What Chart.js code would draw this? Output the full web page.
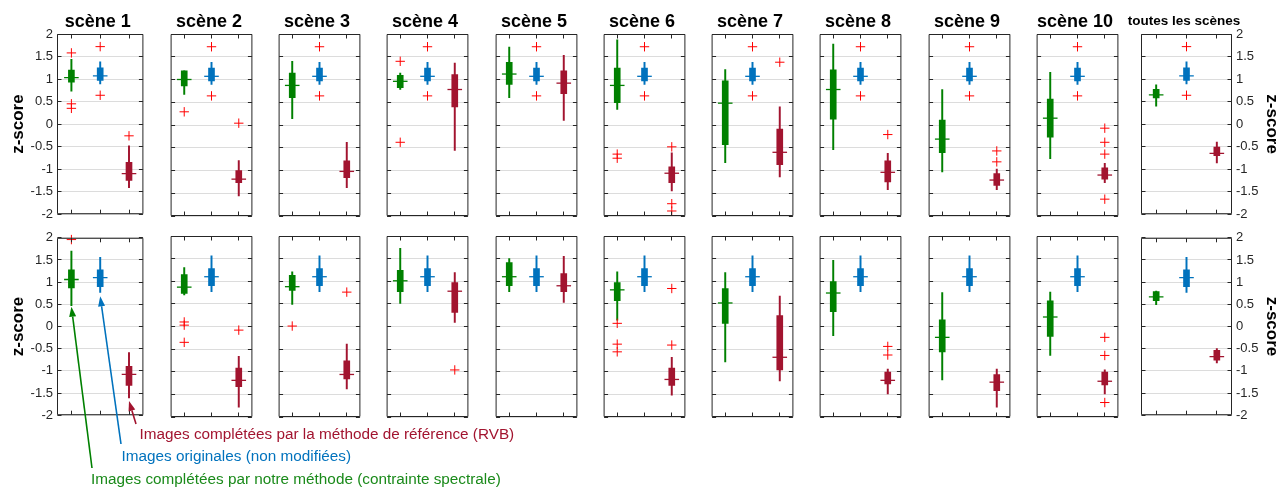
<!DOCTYPE html>
<html lang="fr">
<head>
<meta charset="utf-8">
<title>z-score par scène</title>
<script src="https://cdn.jsdelivr.net/npm/chart.js@4.4.1/dist/chart.umd.min.js"></script>
<style>
  html, body { margin: 0; padding: 0; background: #fff; overflow: hidden; }
  #page { position: relative; width: 1288px; height: 488px; }
  #page canvas { position: absolute; }
  #arrows { left: 0; top: 0; z-index: 5; pointer-events: none; }
  .note {
    position: absolute;
    z-index: 6;
    font: 15.3px/15px "Liberation Sans", Arial, Helvetica, sans-serif;
    white-space: nowrap;
  }
</style>
</head>
<body>
<div id="page">
  <canvas id="arrows" width="1288" height="488"></canvas>
  <div class="note" style="left:139.5px; top:425.5px; color:#a2142f;">Images complétées par la méthode de référence (RVB)</div>
  <div class="note" style="left:121.5px; top:448.2px; color:#0072bd;">Images originales (non modifiées)</div>
  <div class="note" style="left:91px; top:471.2px; color:#1a8a1a;">Images complétées par notre méthode (contrainte spectrale)</div>
</div>
<script>
  const FONT = '"Liberation Sans", Arial, Helvetica, sans-serif';

  const sceneTitles = [
    "scène 1", "scène 2", "scène 3", "scène 4", "scène 5", "scène 6",
    "scène 7", "scène 8", "scène 9", "scène 10", "toutes les scènes",
  ];
  const methods = ["notre méthode", "originales", "référence"];
  const methodColors = ["#008000", "#0072bd", "#a2142f"];
  const outlierColor = "#ff0000";

  const yTickValues = [-2, -1.5, -1, -0.5, 0, 0.5, 1, 1.5, 2];
  const yTickLabels = ["-2", "-1.5", "-1", "-0.5", "0", "0.5", "1", "1.5", "2"];

  // each box: [whisker low, q1, median, q3, whisker high]
  const oursTop = [
    [0.73, 0.93, 1.03, 1.20, 1.44],
    [0.67, 0.86, 1.00, 1.19, 1.19],
    [0.14, 0.60, 0.87, 1.14, 1.40],
    [0.78, 0.82, 0.96, 1.09, 1.14],
    [0.60, 0.89, 1.12, 1.38, 1.71],
    [0.34, 0.49, 0.87, 1.25, 1.87],
    [-0.83, -0.43, 0.48, 0.97, 1.22],
    [-0.54, 0.13, 0.78, 1.21, 1.78],
    [-1.03, -0.61, -0.31, 0.11, 0.78],
    [-0.74, -0.27, 0.15, 0.57, 1.16],
    [0.40, 0.58, 0.65, 0.77, 0.87],
  ];
  const oursTopOutliers = [
    [1.58, 0.45, 0.35], [0.29], [], [1.40, -0.38], [], [-0.64, -0.73], [], [], [], [], [],
  ];

  const origTop = [
    [0.89, 0.97, 1.07, 1.25, 1.38],
    [0.89, 0.97, 1.07, 1.25, 1.38],
    [0.89, 0.97, 1.07, 1.25, 1.38],
    [0.89, 0.97, 1.07, 1.25, 1.38],
    [0.89, 0.97, 1.07, 1.25, 1.38],
    [0.89, 0.97, 1.07, 1.25, 1.38],
    [0.89, 0.97, 1.07, 1.25, 1.38],
    [0.89, 0.97, 1.07, 1.25, 1.38],
    [0.89, 0.97, 1.07, 1.25, 1.38],
    [0.89, 0.97, 1.07, 1.25, 1.38],
    [0.89, 0.97, 1.07, 1.25, 1.38],
  ];
  const origTopOutliers = [
    [1.72, 0.64], [1.72, 0.64], [1.72, 0.64], [1.72, 0.64], [1.72, 0.64], [1.72, 0.64],
    [1.72, 0.64], [1.72, 0.64], [1.72, 0.64], [1.72, 0.64], [1.72, 0.64],
  ];

  const refTop = [
    [-1.41, -1.25, -1.10, -0.85, -0.48],
    [-1.56, -1.27, -1.19, -1.00, -0.78],
    [-1.38, -1.16, -1.02, -0.79, -0.38],
    [-0.56, 0.40, 0.78, 1.11, 1.36],
    [0.10, 0.69, 0.92, 1.19, 1.53],
    [-1.45, -1.27, -1.06, -0.92, -0.61],
    [-1.14, -0.87, -0.60, -0.09, 0.40],
    [-1.42, -1.25, -1.04, -0.79, -0.62],
    [-1.42, -1.33, -1.21, -1.07, -0.97],
    [-1.27, -1.19, -1.10, -0.94, -0.84],
    [-0.86, -0.70, -0.65, -0.51, -0.40],
  ];
  const refTopOutliers = [
    [-0.26], [0.04], [], [], [], [-0.48, -1.73, -1.89], [1.38], [-0.21], [-0.57, -0.81],
    [-0.07, -0.38, -0.64, -1.63], [],
  ];

  const oursBottom = [
    [0.47, 0.87, 1.06, 1.28, 1.70],
    [0.70, 0.73, 0.87, 1.15, 1.30],
    [0.49, 0.80, 0.88, 1.13, 1.21],
    [0.51, 0.77, 1.01, 1.24, 1.73],
    [0.77, 0.90, 1.10, 1.41, 1.50],
    [0.14, 0.57, 0.81, 0.97, 1.21],
    [-0.78, 0.07, 0.52, 0.84, 1.19],
    [-0.20, 0.33, 0.74, 0.99, 1.46],
    [-1.18, -0.56, -0.24, 0.15, 0.75],
    [-0.64, -0.22, 0.21, 0.57, 0.76],
    [0.49, 0.58, 0.67, 0.79, 0.80],
  ];
  const oursBottomOutliers = [
    [1.96], [0.10, 0.03, -0.35], [0.01], [], [], [0.07, -0.39, -0.56], [], [], [], [], [],
  ];

  const origBottom = [
    [0.77, 0.90, 1.10, 1.28, 1.56],
    [0.77, 0.90, 1.10, 1.28, 1.56],
    [0.77, 0.90, 1.10, 1.28, 1.56],
    [0.77, 0.90, 1.10, 1.28, 1.56],
    [0.77, 0.90, 1.10, 1.28, 1.56],
    [0.77, 0.90, 1.10, 1.28, 1.56],
    [0.77, 0.90, 1.10, 1.28, 1.56],
    [0.77, 0.90, 1.10, 1.28, 1.56],
    [0.77, 0.90, 1.10, 1.28, 1.56],
    [0.77, 0.90, 1.10, 1.28, 1.56],
    [0.77, 0.90, 1.10, 1.28, 1.56],
  ];
  const origBottomOutliers = [[], [], [], [], [], [], [], [], [], [], []];

  const refBottom = [
    [-1.61, -1.33, -1.08, -0.90, -0.59],
    [-1.78, -1.33, -1.19, -0.92, -0.66],
    [-1.38, -1.16, -1.06, -0.76, -0.39],
    [0.09, 0.31, 0.78, 0.97, 1.19],
    [0.53, 0.77, 0.90, 1.17, 1.55],
    [-1.52, -1.30, -1.17, -0.92, -0.68],
    [-1.20, -0.96, -0.68, 0.24, 0.67],
    [-1.49, -1.27, -1.19, -1.01, -0.94],
    [-1.78, -1.42, -1.23, -1.06, -0.94],
    [-1.49, -1.29, -1.21, -1.01, -0.96],
    [-0.82, -0.76, -0.68, -0.54, -0.50],
  ];
  const refBottomOutliers = [
    [], [-0.08], [0.76], [-0.96], [], [0.84, -0.41], [], [-0.44, -0.63], [], [-0.24, -0.64, -1.68], [],
  ];

  // page layout (pixels)
  const panelLeft = [57, 166, 274, 382, 491, 599, 707, 815, 924, 1032, 1141];
  const panelWidth = 91;
  const rows = [
    { top: 34, height: 182, padTop: 34, titles: true,
      ours: oursTop, oursOut: oursTopOutliers, orig: origTop, origOut: origTopOutliers, ref: refTop, refOut: refTopOutliers },
    { top: 236, height: 181, padTop: 10, titles: false,
      ours: oursBottom, oursOut: oursBottomOutliers, orig: origBottom, origOut: origBottomOutliers, ref: refBottom, refOut: refBottomOutliers },
  ];

  const panelTitle = {
    id: "panelTitle",
    afterDraw(chart, args, opts) {
      if (!opts.text) {
        return;
      }
      const { ctx, chartArea } = chart;
      ctx.save();
      ctx.font = opts.font;
      ctx.fillStyle = "#000";
      ctx.textAlign = "center";
      ctx.textBaseline = "alphabetic";
      ctx.fillText(opts.text, (chartArea.left + chartArea.right) / 2 + opts.dx, chartArea.top - opts.gap);
      ctx.restore();
    },
  };

  // box round the axes with inward tick marks
  const axesBox = {
    id: "axesBox",
    afterDraw(chart) {
      const { ctx, chartArea: a, scales } = chart;
      const left = a.left + 0.5;
      const right = a.right - 0.5;
      const top = a.top + 0.5;
      const bottom = a.bottom - 0.5;
      ctx.save();
      ctx.strokeStyle = "#262626";
      ctx.lineWidth = 1;
      ctx.beginPath();
      ctx.rect(left, top, right - left, bottom - top);
      yTickValues.forEach((v) => {
        const py = Math.round(scales.y.getPixelForValue(v) - 0.5) + 0.5;
        ctx.moveTo(left, py);
        ctx.lineTo(left + 4, py);
        ctx.moveTo(right, py);
        ctx.lineTo(right - 4, py);
      });
      methods.forEach((m, k) => {
        const px = Math.round(scales.x.getPixelForValue(k) - 0.5) + 0.5;
        ctx.moveTo(px, bottom);
        ctx.lineTo(px, bottom - 4);
        ctx.moveTo(px, top);
        ctx.lineTo(px, top + 4);
      });
      ctx.stroke();
      ctx.restore();
    },
  };

  const page = document.getElementById("page");
  const bottomCharts = [];

  rows.forEach((row, rowIndex) => {
    sceneTitles.forEach((title, i) => {
      const chart = makePanel(row, i, title);
      if (rowIndex === 1) {
        bottomCharts.push(chart);
      }
    });
  });

  drawArrows(bottomCharts[0]);

  function makePanel(row, i, title) {
    const first = i === 0;
    const last = i === sceneTitles.length - 1;
    const axisLeft = first ? 53 : 0;
    const axisRight = last ? 52 : 0;
    const padLeft = last ? 30 : 4;
    const padRight = 4;
    const padTop = row.padTop;
    const padBottom = 10;

    const canvas = document.createElement("canvas");
    canvas.width = panelWidth + padLeft + padRight + axisLeft + axisRight;
    canvas.height = row.height + padTop + padBottom;
    canvas.style.left = (panelLeft[i] - padLeft - axisLeft) + "px";
    canvas.style.top = (row.top - padTop) + "px";
    canvas.dataset.left = panelLeft[i] - padLeft - axisLeft;
    canvas.dataset.top = row.top - padTop;
    page.appendChild(canvas);

    const stats = [row.ours[i], row.orig[i], row.ref[i]];
    const outliers = [row.oursOut[i], row.origOut[i], row.refOut[i]];
    const outlierPoints = [];
    outliers.forEach((values, k) => {
      values.forEach((v) => outlierPoints.push({ x: methods[k], y: v }));
    });

    const showLabels = first || last;

    return new Chart(canvas, {
      type: "bar",
      data: {
        labels: methods,
        datasets: [
          {
            type: "scatter",
            data: outlierPoints,
            pointStyle: "cross",
            pointRadius: 4.7,
            pointBorderColor: outlierColor,
            pointBackgroundColor: outlierColor,
            pointBorderWidth: 1,
            clip: false,
            order: 1,
          },
          {
            type: "scatter",
            data: stats.map((s, k) => ({ x: methods[k], y: s[2] })),
            pointStyle: "line",
            pointRadius: 7.3,
            pointBorderColor: methodColors,
            pointBackgroundColor: methodColors,
            pointBorderWidth: 1.3,
            order: 2,
          },
          {
            data: stats.map((s) => [s[1], s[3]]),
            backgroundColor: methodColors,
            borderWidth: 0,
            barThickness: 6,
            grouped: false,
            order: 3,
          },
          {
            data: stats.map((s) => [s[0], s[4]]),
            backgroundColor: methodColors,
            borderWidth: 0,
            barThickness: 1.3,
            grouped: false,
            order: 4,
          },
        ],
      },
      options: {
        responsive: false,
        animation: false,
        events: [],
        layout: {
          padding: { left: padLeft, right: padRight, top: padTop, bottom: padBottom },
        },
        plugins: {
          legend: { display: false },
          tooltip: { enabled: false },
          colors: { enabled: false },
          panelTitle: {
            text: row.titles ? title : "",
            font: last ? `bold 13.5px ${FONT}` : `bold 18px ${FONT}`,
            gap: last ? 9 : 7,
            dx: -2.5,
          },
        },
        scales: {
          x: {
            type: "category",
            labels: methods,
            offset: true,
            display: false,
          },
          y: {
            type: "linear",
            position: last ? "right" : "left",
            min: -2,
            max: 2,
            afterBuildTicks(scale) {
              scale.ticks = yTickValues.map((v) => ({ value: v }));
            },
            afterFit(scale) {
              scale.width = first ? axisLeft : (last ? axisRight : 0);
            },
            grid: { color: "#dcdcdc", lineWidth: 1, drawTicks: false },
            border: { display: false },
            ticks: {
              display: showLabels,
              padding: 4,
              color: "#262626",
              font: { family: FONT, size: 13 },
              callback(value) {
                return yTickLabels[yTickValues.indexOf(value)];
              },
            },
            title: {
              display: showLabels,
              text: "z-score",
              color: "#000",
              font: { family: FONT, size: 17, weight: "bold" },
              padding: { top: first ? 4 : 2, bottom: 0 },
            },
          },
        },
      },
      plugins: [panelTitle, axesBox],
    });
  }

  function drawArrows(chart) {
    const ctx = document.getElementById("arrows").getContext("2d");
    const offsetX = Number(chart.canvas.dataset.left);
    const offsetY = Number(chart.canvas.dataset.top);
    const stats = [oursBottom[0], origBottom[0], refBottom[0]];
    const tails = [{ x: 92, y: 468 }, { x: 121, y: 444 }, { x: 136, y: 424 }];
    const gaps = [1, 4, 3];

    tails.forEach((tail, k) => {
      const tip = {
        x: offsetX + chart.scales.x.getPixelForValue(k),
        y: offsetY + chart.scales.y.getPixelForValue(stats[k][0]) + gaps[k],
      };
      drawArrow(ctx, tail, tip, methodColors[k]);
    });
  }

  function drawArrow(ctx, from, to, color) {
    const angle = Math.atan2(to.y - from.y, to.x - from.x);
    const headLength = 10;
    const headHalf = 3.5;
    const baseX = to.x - Math.cos(angle) * headLength;
    const baseY = to.y - Math.sin(angle) * headLength;

    ctx.save();
    ctx.strokeStyle = color;
    ctx.fillStyle = color;
    ctx.lineWidth = 1.6;
    ctx.beginPath();
    ctx.moveTo(from.x, from.y);
    ctx.lineTo(baseX, baseY);
    ctx.stroke();

    ctx.beginPath();
    ctx.moveTo(to.x, to.y);
    ctx.lineTo(baseX + Math.sin(angle) * headHalf, baseY - Math.cos(angle) * headHalf);
    ctx.lineTo(baseX - Math.sin(angle) * headHalf, baseY + Math.cos(angle) * headHalf);
    ctx.closePath();
    ctx.fill();
    ctx.restore();
  }
</script>
</body>
</html>
